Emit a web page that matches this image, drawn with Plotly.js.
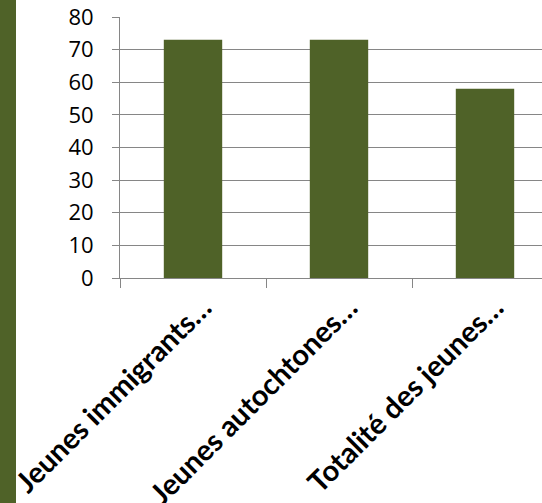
<!DOCTYPE html>
<html>
<head>
<meta charset="utf-8">
<script src="https://cdn.plot.ly/plotly-3.0.1.min.js"></script>
<style>
html,body{margin:0;padding:0;overflow:hidden;background:#fff;width:542px;height:503px;}
#chart{width:560px;height:503px;}
</style>
</head>
<body>
<div id="chart"></div>
<script>
const categories = ["Jeunes immigrants…", "Jeunes autochtones…", "Totalité des jeunes…"];
const values = [73, 73, 58];
const yTicks = [0, 10, 20, 30, 40, 50, 60, 70, 80];

const green = "#4F6228";
const gridColor = "#868686";

const trace = {
  type: "bar",
  x: categories,
  y: values,
  marker: {color: green, line: {width: 0}},
  width: 0.4,
  hoverinfo: "skip"
};

const layout = {
  width: 560,
  height: 503,
  margin: {l: 120, r: 2, t: 17, b: 225},
  paper_bgcolor: "#fff",
  plot_bgcolor: "#fff",
  showlegend: false,
  bargap: 0.6,
  font: {family: "Open Sans, sans-serif", color: "#000"},
  xaxis: {
    type: "category",
    tickson: "boundaries",
    ticks: "outside",
    ticklen: 9,
    tickcolor: gridColor,
    tickwidth: 1,
    showline: true,
    linecolor: gridColor,
    linewidth: 1,
    showgrid: false,
    tickangle: -45,
    ticklabelstandoff: 0,
    ticklabelshift: 10,
    tickfont: {family: "Lato, Open Sans, sans-serif", size: 29, color: "#000", weight: "bold"},
    fixedrange: true
  },
  yaxis: {
    range: [0, 80],
    tickvals: yTicks,
    ticktext: yTicks.map(String),
    ticks: "outside",
    ticklen: 7,
    tickcolor: gridColor,
    tickwidth: 1,
    showline: true,
    linecolor: gridColor,
    linewidth: 1,
    showgrid: true,
    gridcolor: gridColor,
    gridwidth: 1,
    zeroline: false,
    ticklabelstandoff: 14,
    tickfont: {family: "Open Sans, sans-serif", size: 22, color: "#000"},
    fixedrange: true
  },
  shapes: [{
    type: "rect", xref: "paper", yref: "paper",
    x0: -120/438, x1: -104/438, y0: -225/261, y1: 17/261 + 1,
    fillcolor: green, line: {width: 0}, layer: "below"
  }]
};

Plotly.newPlot("chart", [trace], layout, {displayModeBar: false, staticPlot: true});
</script>
</body>
</html>
